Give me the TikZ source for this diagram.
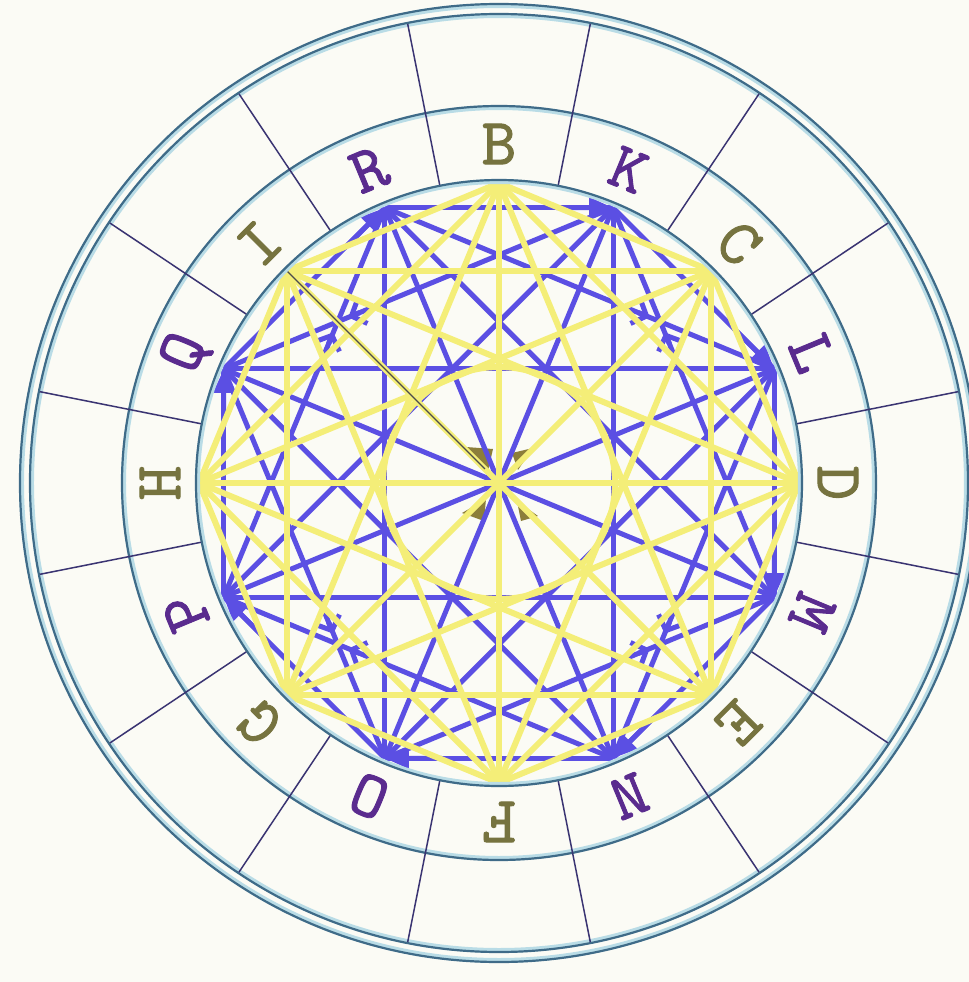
\documentclass[tikz,border=0pt]{standalone}
\usepackage{fontspec}
\newfontfamily\lblfont{lmmono10-regular.otf}[FakeBold=1.3]
\usetikzlibrary{arrows.meta,calc}
\definecolor{bgc}{HTML}{FBFBF5}
\definecolor{ringc}{HTML}{3F6B88}
\definecolor{haloc}{HTML}{B9DCE6}
\definecolor{divc}{HTML}{3A3472}
\definecolor{bluec}{HTML}{5B4FE3}
\definecolor{yelc}{HTML}{F4EE78}
\definecolor{olivec}{HTML}{76733F}
\definecolor{purpc}{HTML}{5A2B8E}
\definecolor{wedgec}{HTML}{8C7E3A}
\begin{document}
\begin{tikzpicture}[x=0.5pt,y=0.5pt,
  ringline/.style={draw=ringc,line width=1.1pt},
  halo/.style={draw=haloc,line width=2.4pt},
  divline/.style={draw=divc,line width=0.75pt},
  bline/.style={draw=bluec,line width=2.5pt},
  yline/.style={draw=yelc,line width=3pt,line cap=round},
  barrow/.style={bline,-{Triangle[length=12pt,width=10pt]}},
  chev/.style={bline,-{Straight Barb[length=6pt,width=13pt]}},
  lbl/.style={font=\lblfont\fontsize{33}{33}\selectfont,inner sep=0pt,anchor=center},
  ylbl/.style={lbl,text=olivec},
  plbl/.style={lbl,text=purpc}]
\useasboundingbox (-499,-499) rectangle (470,483);
\fill[bgc] (-499,-499) rectangle (470,483);
% vertices
\coordinate (Z) at (0,0);
\foreach \n/\a in {B/90,C/45,D/0,E/-45,F/-90,G/-135,H/180,I/135}
  \coordinate (\n) at (\a:300);
\foreach \n/\a in {K/67.5,L/22.5,M/-22.5,N/-67.5,O/-112.5,P/-157.5,Q/157.5,R/112.5}
  \coordinate (\n) at (\a:298);
% olive wedges at the centre
\fill[wedgec] (-33,36) -- (-6,34) -- (-11,12) -- cycle;
\fill[wedgec] (13,30) -- (34,35) -- (19,13) -- cycle;
\fill[wedgec] (-37,-30) -- (-13,-16) -- (-15,-38) -- cycle;
\fill[wedgec] (18,-18) -- (39,-33) -- (22,-38) -- cycle;
% blue complete graph
\foreach \u [count=\i] in {K,L,M,N,O,P,Q,R}{
  \foreach \v [count=\j] in {K,L,M,N,O,P,Q,R}{
    \ifnum\j>\i \draw[bline] (\u) -- (\v); \fi
  }
}
% arrowheads at the blue vertices
\foreach \u/\v in {R/K,K/L,L/M,M/N,N/O,O/P,P/Q,Q/R}
  \draw[barrow] ($(\u)!0.75!(\v)$) -- (\v);
% chevrons on the lines
\foreach \u/\v in {Q/K,K/M,M/O,O/Q,R/P,L/R,N/L,P/N}
  \draw[chev] ($(\u)!0.35!(\v)$) -- ($(\u)!0.32!(\v)$);
% yellow complete graph
\foreach \u [count=\i] in {B,C,D,E,F,G,H,I}{
  \foreach \v [count=\j] in {B,C,D,E,F,G,H,I}{
    \ifnum\j>\i \draw[yline] (\u) -- (\v); \fi
  }
}
\draw[yline] (Z) circle (116);
\draw[draw=black!70,line width=0.6pt] (I) -- (-14,14);
% rings
\foreach \r in {303,377,469,479} \draw[halo] (Z) circle (\r-1.6);
\foreach \r in {303,377,469,479} \draw[ringline] (Z) circle (\r);
\foreach \k in {0,...,15}
  \draw[divline] (11.25+22.5*\k:304) -- (11.25+22.5*\k:468);
% letters
\node[ylbl] (tB) at (90:339) {B};
\node[plbl,rotate=-22.5] (tK) at (67.5:339) {K};
\node[ylbl,rotate=-45] (tC) at (45:339) {C};
\node[plbl,rotate=-67.5] (tL) at (22.5:339) {L};
\node[ylbl,rotate=-90] (tD) at (0:339) {D};
\node[plbl,rotate=-112.5] (tM) at (-22.5:339) {M};
\node[ylbl,rotate=-135] (tE) at (-45:339) {E};
\node[plbl,rotate=-157.5] (tN) at (-67.5:339) {N};
\node[ylbl,rotate=180] (tF) at (-90:339) {F};
\node[plbl,rotate=157.5] (tO) at (-112.5:339) {O};
\node[ylbl,rotate=135] (tG) at (-135:339) {G};
\node[plbl,rotate=112.5] (tP) at (-157.5:339) {P};
\node[ylbl,rotate=90] (tH) at (180:339) {H};
\node[plbl,rotate=67.5] (tQ) at (157.5:339) {Q};
\node[ylbl,rotate=45] (tI) at (135:339) {I};
\node[plbl,rotate=22.5] (tR) at (112.5:339) {R};
\end{tikzpicture}
\end{document}
